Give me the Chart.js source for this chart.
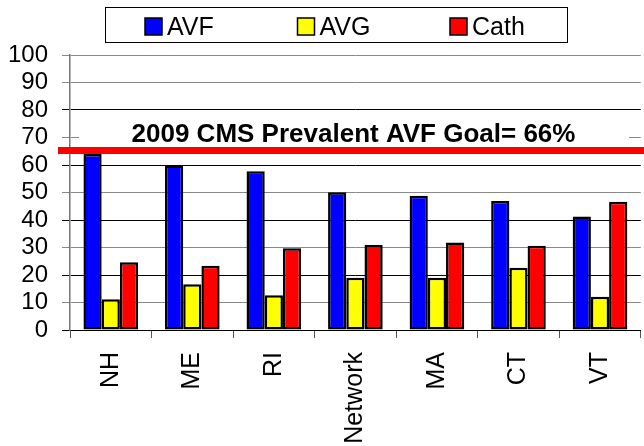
<!DOCTYPE html>
<html>
<head>
<meta charset="utf-8">
<title>Vascular access by state</title>
<script src="https://cdn.jsdelivr.net/npm/chart.js@4.4.1/dist/chart.umd.min.js"></script>
<style>
    html, body { margin: 0; padding: 0; background: #fff; overflow: hidden; }
    canvas { display: block; }
</style>
</head>
<body>
<canvas id="accessChart" width="644" height="446"></canvas>
<script>
// Data
const categories = ['NH', 'ME', 'RI', 'Network', 'MA', 'CT', 'VT'];
const avfValues = [64.0, 59.8, 57.7, 50.1, 48.8, 46.9, 41.3];
const avgValues = [11.2, 16.6, 12.6, 19.0, 19.0, 22.6, 12.1];
const cathValues = [24.6, 23.4, 29.7, 30.9, 31.8, 30.6, 46.6];
const seriesNames = ['AVF', 'AVG', 'Cath'];
const yTickValues = [0, 10, 20, 30, 40, 50, 60, 70, 80, 90, 100];
const goalValue = 65.3;
const goalLabel = '2009 CMS Prevalent AVF Goal= 66%';

const FONT = '"Liberation Sans", Arial, sans-serif';

// Legend drawn by hand: Excel style box with evenly spaced entries
const boxedLegend = {
    id: 'boxedLegend',
    afterDraw(chart) {
        const ctx = chart.ctx;
        ctx.save();
        ctx.strokeStyle = '#000';
        ctx.lineWidth = 1;
        ctx.strokeRect(105.5, 7.5, 462, 35);
        ctx.font = '25px ' + FONT;
        ctx.textBaseline = 'alphabetic';
        chart.data.datasets.forEach(function (ds, i) {
            const x = 145 + i * 152.5;
            ctx.fillStyle = ds.backgroundColor;
            ctx.fillRect(x, 18, 17, 17);
            ctx.lineWidth = 1.5;
            ctx.strokeRect(x, 18, 17, 17);
            ctx.fillStyle = '#000';
            ctx.fillText(ds.label, x + 22, 35);
        });
        ctx.restore();
    }
};

// Goal line + caption
const goalLine = {
    id: 'goalLine',
    afterDatasetsDraw(chart) {
        const ctx = chart.ctx;
        const area = chart.chartArea;
        const y = chart.scales.y;
        const yPos = y.getPixelForValue(goalValue);
        ctx.save();
        // white panel behind the caption hides the 70 gridline, as in the original
        ctx.fillStyle = '#fff';
        ctx.fillRect(area.left + 9, y.getPixelForValue(78), 550, yPos - 4 - y.getPixelForValue(78));
        ctx.fillStyle = '#000';
        ctx.font = 'bold 26px ' + FONT;
        ctx.textAlign = 'center';
        ctx.textBaseline = 'alphabetic';
        ctx.fillText(goalLabel, 353.5, yPos - 8.5);
        ctx.strokeStyle = '#ff0000';
        ctx.lineWidth = 7;
        ctx.beginPath();
        ctx.moveTo(area.left - 12, yPos);
        ctx.lineTo(chart.width, yPos);
        ctx.stroke();
        ctx.restore();
    }
};

const barStyle = {
    borderColor: '#000',
    borderWidth: 2.5,
    borderSkipped: false,
    barPercentage: 1.0,
    categoryPercentage: 0.67
};

new Chart(document.getElementById('accessChart'), {
    type: 'bar',
    data: {
        labels: categories,
        datasets: [
            Object.assign({ label: seriesNames[0], data: avfValues, backgroundColor: '#0000ff' }, barStyle),
            Object.assign({ label: seriesNames[1], data: avgValues, backgroundColor: '#ffff00' }, barStyle),
            Object.assign({ label: seriesNames[2], data: cathValues, backgroundColor: '#ff0000' }, barStyle)
        ]
    },
    options: {
        responsive: false,
        animation: false,
        layout: { padding: { top: 55, right: 0, left: 0, bottom: 0 } },
        plugins: {
            legend: { display: false },
            tooltip: { enabled: false }
        },
        scales: {
            x: {
                offset: true,
                grid: {
                    drawOnChartArea: false,
                    drawTicks: true,
                    tickLength: 8,
                    color: '#555'
                },
                border: { color: '#000', width: 1 },
                ticks: {
                    color: '#000',
                    font: { family: FONT, size: 25 },
                    minRotation: 90,
                    maxRotation: 90,
                    padding: 14
                },
                afterFit: function (scale) { scale.height = 116; }
            },
            y: {
                min: 0,
                max: 100,
                afterBuildTicks: function (scale) {
                    scale.ticks = yTickValues.map(function (v) { return { value: v }; });
                },
                grid: {
                    tickLength: 8,
                    color: function (c) {
                        const v = c.tick ? c.tick.value : 0;
                        return (v % 20 === 0 && v !== 100) ? '#000' : '#888';
                    }
                },
                border: { color: '#777', width: 1.5 },
                ticks: {
                    autoSkip: false,
                    color: '#000',
                    font: { family: FONT, size: 24 },
                    padding: 14
                },
                afterFit: function (scale) { scale.width = 70; }
            }
        }
    },
    plugins: [goalLine, boxedLegend]
});
</script>
</body>
</html>
